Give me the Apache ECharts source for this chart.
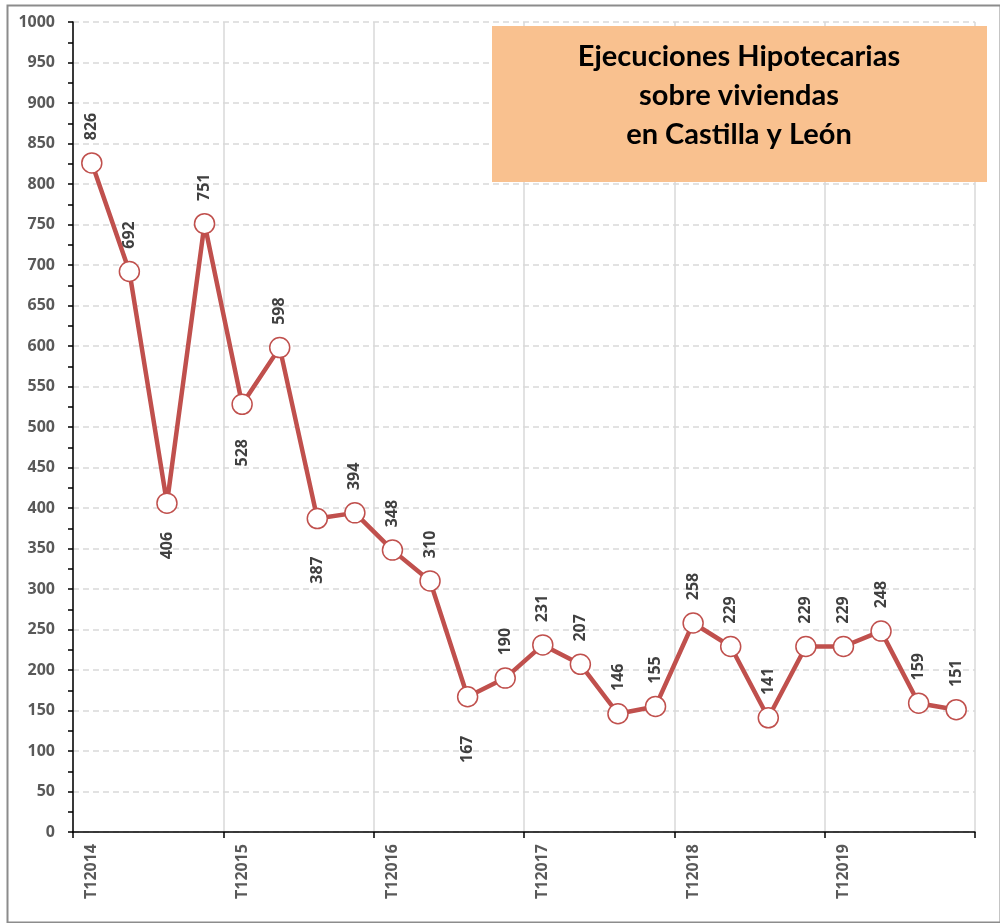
<!DOCTYPE html>
<html>
<head>
<meta charset="utf-8">
<script src="https://cdn.jsdelivr.net/npm/echarts@6/dist/echarts.min.js"></script>
<style>
  html, body { margin: 0; padding: 0; background: #fff; }
  #chart { width: 1000px; height: 923px; }
</style>
</head>
<body>
<div id="chart"></div>
<script>
// trimestres T1 2014 .. T4 2019
const years = [2014, 2015, 2016, 2017, 2018, 2019];
const quarters = [];
years.forEach(y => { for (let q = 1; q <= 4; q++) quarters.push('T' + q + y); });

const ejecuciones = [826, 692, 406, 751, 528, 598, 387, 394, 348, 310, 167, 190,
                     231, 207, 146, 155, 258, 229, 141, 229, 229, 248, 159, 151];

// etiquetas que van debajo del punto (indice -> desplazamiento x)
const labelsBelow = { 2: -4, 4: -10, 6: -13, 10: -14 };

const title = ['Ejecuciones Hipotecarias', 'sobre viviendas', 'en Castilla y León'];

const red = '#C0504D';
const gray = '#595959';

let myChart = echarts.init(document.getElementById('chart'));

const seriesData = ejecuciones.map((v, i) => {
  if (labelsBelow[i] !== undefined) {
    return {
      value: v,
      label: { position: 'bottom', align: 'right', offset: [labelsBelow[i], 0], distance: 14 }
    };
  }
  return v;
});

const yearStart = (index) => index % 4 === 0;

let option = {
  backgroundColor: '#fff',
  animation: false,
  grid: { left: 73, right: 25, top: 22, bottom: 91 },
  xAxis: {
    type: 'category',
    data: quarters,
    boundaryGap: true,
    axisLine: { lineStyle: { color: '#000', width: 1.5 } },
    axisTick: { show: true, interval: yearStart, length: 6, lineStyle: { color: '#000', width: 1.5 } },
    axisLabel: {
      interval: yearStart,
      rotate: 90,
      color: gray,
      fontWeight: 'bold',
      fontSize: 16,
      fontFamily: 'Open Sans',
      margin: 12
    },
    splitLine: { show: true, interval: yearStart, lineStyle: { color: '#d9d9d9', width: 1.5 } }
  },
  yAxis: {
    type: 'value',
    min: 0,
    max: 1000,
    interval: 50,
    axisLine: { show: true, lineStyle: { color: '#000', width: 1.5 } },
    axisTick: { show: true, length: 5, lineStyle: { color: '#000', width: 1.5 } },
    minorTick: { show: true, splitNumber: 2, length: 5, lineStyle: { color: '#000', width: 1.5 } },
    axisLabel: {
      color: gray,
      fontWeight: 'bold',
      fontSize: 16,
      fontFamily: 'Open Sans',
      margin: 18,
      formatter: (v) => String(v)
    },
    splitLine: { show: true, lineStyle: { color: '#d9d9d9', width: 1.5, type: [6, 4] } }
  },
  series: [{
    type: 'line',
    data: seriesData,
    symbol: 'circle',
    symbolSize: 20,
    lineStyle: { color: red, width: 4.5 },
    itemStyle: { color: '#fff', borderColor: red, borderWidth: 1.5 },
    label: {
      show: true,
      position: 'top',
      rotate: 90,
      align: 'left',
      verticalAlign: 'middle',
      distance: 12,
      color: '#404040',
      fontWeight: 'bold',
      fontSize: 16,
      fontFamily: 'Open Sans'
    },
    z: 3
  }],
  graphic: [
    {
      type: 'rect',
      left: 5, top: 3,
      shape: { width: 993, height: 917 },
      style: { fill: 'none', stroke: '#8c8c8c', lineWidth: 2 },
      silent: true
    },
    {
      type: 'rect',
      left: 492, top: 26,
      shape: { width: 495, height: 156 },
      style: { fill: '#F9C18F' },
      z: 10
    },
    {
      type: 'text',
      x: 739, y: 37,
      style: {
        text: title.join('\n'),
        fill: '#000',
        font: 'bold 29px Lato',
        lineHeight: 39,
        align: 'center',
        verticalAlign: 'top'
      },
      z: 11
    }
  ]
};

myChart.setOption(option);
</script>
</body>
</html>
